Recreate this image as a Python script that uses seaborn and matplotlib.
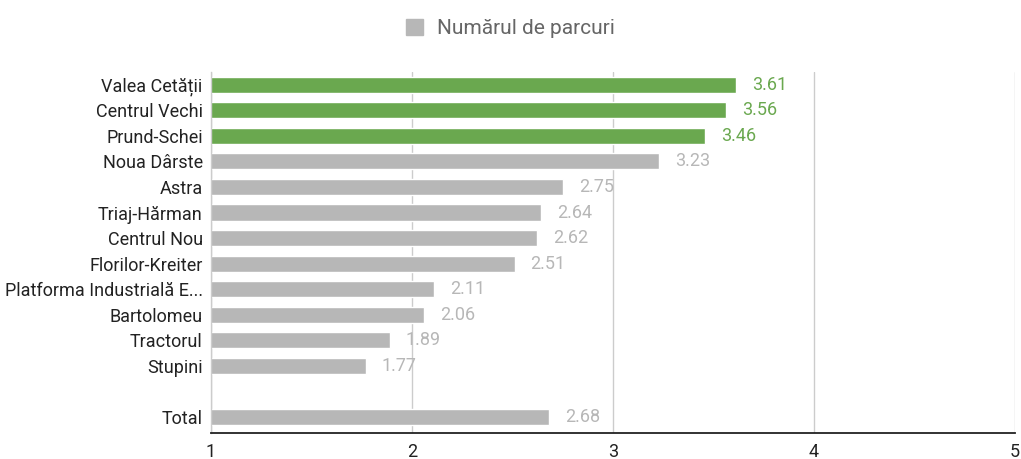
import matplotlib
matplotlib.use("Agg")
import matplotlib.pyplot as plt
import matplotlib.patches as mpatches
import seaborn as sns
import pandas as pd

cartiere = ["Valea Cetății", "Centrul Vechi", "Prund-Schei", "Noua Dârste", "Astra",
            "Triaj-Hărman", "Centrul Nou", "Florilor-Kreiter",
            "Platforma Industrială E...", "Bartolomeu", "Tractorul", "Stupini", "Total"]
valori = [3.61, 3.56, 3.46, 3.23, 2.75, 2.64, 2.62, 2.51, 2.11, 2.06, 1.89, 1.77, 2.68]
top3 = ["Valea Cetății", "Centrul Vechi", "Prund-Schei"]

VERDE = "#6aa84f"
GRI = "#b7b7b7"

sns.set_theme(style="white")
plt.rcParams["font.family"] = ["Roboto", "DejaVu Sans"]

df = pd.DataFrame({"cartier": cartiere, "valoare": valori})
df["grup"] = ["top" if c in top3 else "rest" for c in cartiere]

# blank slot between Stupini and Total
ordine = cartiere[:-1] + [" "] + ["Total"]

fig = plt.figure(figsize=(10.21, 4.59), dpi=100)
ax = fig.add_axes([211 / 1021, 1 - 433 / 459, (1015 - 211) / 1021, (433 - 72) / 459])

sns.barplot(data=df, x="valoare", y="cartier", hue="grup", order=ordine,
            palette={"top": VERDE, "rest": GRI}, orient="h", width=0.63,
            legend=False, ax=ax, saturation=1, dodge=False)

ax.set_xlim(1, 5)
ax.set_ylim(13.63, -0.5)
ax.set_xticks([1, 2, 3, 4, 5])
ax.set_xlabel("")
ax.set_ylabel("")
ax.grid(axis="x", color="#cccccc", linewidth=1)
ax.set_axisbelow(True)
ax.tick_params(axis="both", length=0, labelsize=13, colors="#222222")
ax.tick_params(axis="x", pad=7)
ax.tick_params(axis="y", pad=6)

for s in ["top", "right"]:
    ax.spines[s].set_visible(False)
ax.spines["left"].set_color("#cccccc")
ax.spines["left"].set_linewidth(1)
ax.spines["bottom"].set_color("#222222")
ax.spines["bottom"].set_linewidth(1.3)

for c, v in zip(cartiere, valori):
    y = ordine.index(c)
    col = VERDE if c in top3 else GRI
    ax.text(v + 0.08, y, f"{v:.2f}", va="center", ha="left", fontsize=13, color=col)

handle = mpatches.Patch(color=GRI, label="Numărul de parcuri")
fig.legend(handles=[handle], loc="upper center", bbox_to_anchor=(0.5, 1.0),
           frameon=False, fontsize=15, handlelength=0.8, handleheight=0.8,
           handletextpad=0.7, labelcolor="#666666")

fig.savefig("out.png", dpi=100)
